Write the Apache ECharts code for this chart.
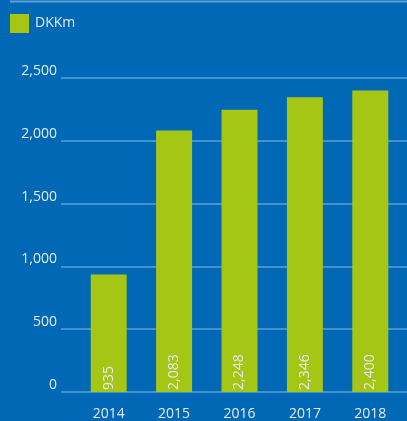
<!DOCTYPE html>
<html><head><meta charset="utf-8">
<script src="https://cdn.jsdelivr.net/npm/echarts@6/dist/echarts.min.js"></script>
<style>html,body{margin:0;padding:0;background:#0068b4;}#c{width:407px;height:421px;}</style>
</head><body><div id="c"></div>
<script>
const categories = ['2014','2015','2016','2017','2018'];
const values = [935, 2083, 2248, 2346, 2400];
const seriesName = 'DKKm';
const yTicks = [0, 500, 1000, 1500, 2000, 2500];

const chart = echarts.init(document.getElementById('c'));
const txt = '#e4edf7';
const font = 'Open Sans';
chart.setOption({
  backgroundColor: '#0068b4',
  animation: false,
  textStyle: {fontFamily: font},
  graphic: [{type:'line', shape:{x1:10,y1:1.5,x2:407,y2:1.5}, style:{stroke:'#5b9fd9', lineWidth:2}}],
  legend: {left: 10, top: 14, padding: 0, itemWidth: 19, itemHeight: 19, itemGap: 8, icon: 'rect',
    textStyle: {color: txt, fontSize: 14, fontFamily: font, padding:[0,0,0,1]}, data: [seriesName]},
  grid: [
    {left: 61, right: 0, top: 78, bottom: 29},
    {left: 76, right: 4, top: 78, bottom: 29}
  ],
  xAxis: [
    {type:'category', gridIndex:0, data: categories, show:false},
    {type:'category', gridIndex:1, data: categories,
      axisLine:{show:false}, axisTick:{show:false},
      axisLabel:{color: txt, fontSize: 14, margin: 15, fontFamily: font}}
  ],
  yAxis: [
    {type:'value', gridIndex:0, min:0, max:2500, interval:500,
      axisLine:{show:false}, axisTick:{show:false},
      splitLine:{lineStyle:{color:'#5b9fd9', width:1.5}},
      axisLabel:{color: txt, fontSize: 14, margin: 4, verticalAlign:'bottom', fontFamily: font,
        formatter: v => v.toLocaleString('en-US')}},
    {type:'value', gridIndex:1, min:0, max:2500, interval:500, show:false}
  ],
  series: [{
    name: seriesName, type:'bar', xAxisIndex:1, yAxisIndex:1, data: values,
    barWidth: 36, itemStyle:{color:'#a5c615'},
    label:{show:true, position:'insideBottom', rotate:90, align:'left', verticalAlign:'middle',
      distance: 2, color: txt, fontSize: 14, fontFamily: font,
      formatter: p => p.value.toLocaleString('en-US')}
  }]
});
</script></body></html>
